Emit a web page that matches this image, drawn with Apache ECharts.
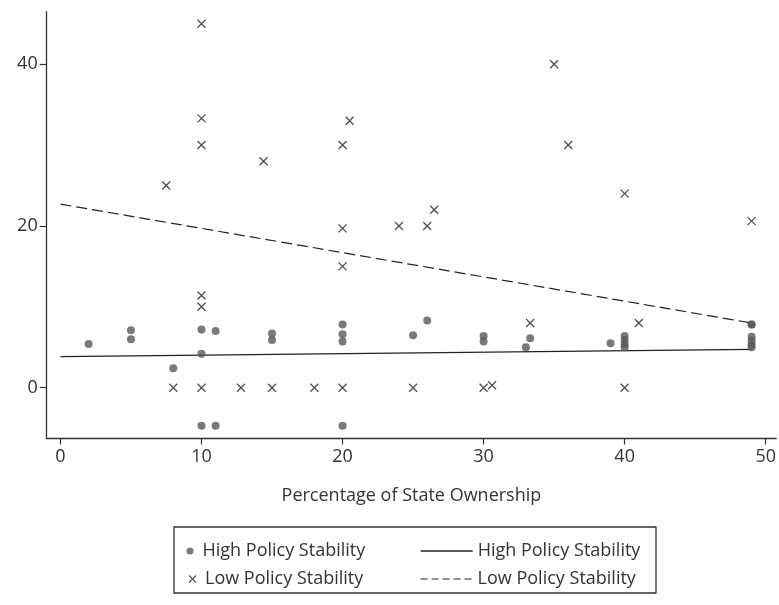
<!DOCTYPE html>
<html><head><meta charset="utf-8">
<script src="https://cdn.jsdelivr.net/npm/echarts@6/dist/echarts.min.js"></script>
<style>html,body{margin:0;padding:0;background:#fff}#c{width:779px;height:605px}</style>
</head><body><div id="c"></div>
<script>
// ---- data ----
const highX = [2, 5, 5, 8, 10, 10, 10, 11, 11, 15, 15, 20, 20, 20, 20, 25, 26, 30, 30, 33, 33.3, 39, 40, 40, 40, 40, 49, 49, 49, 49, 49, 49];
const highY = [5.4, 7.1, 6.0, 2.4, 7.2, 4.2, -4.7, 7.0, -4.7, 6.7, 5.9, 7.8, 6.6, 5.7, -4.7, 6.5, 8.3, 6.4, 5.7, 5.0, 6.1, 5.5, 6.4, 5.9, 5.4, 5.0, 7.8, 7.8, 6.3, 5.8, 5.3, 5.0];
const lowX = [10, 10, 10, 14.4, 7.5, 35, 20.5, 20, 36, 26.5, 40, 49, 10, 10, 8, 10, 12.8, 15, 20, 24, 26, 20, 33.3, 18, 20, 25, 30, 30.6, 41, 40];
const lowY = [45, 33.3, 30, 28, 25, 40, 33, 30, 30, 22, 24, 20.6, 11.4, 10, 0, 0, 0, 0, 19.7, 20, 20, 15, 8, 0, 0, 0, 0, 0.3, 8, 0];
const fitX = [0, 49];
const highFitY = [3.85, 4.75];
const lowFitY = [22.7, 8.0];
const xTicks = [0, 10, 20, 30, 40, 50];
const yTicks = [0, 20, 40];
const xTitle = 'Percentage of State Ownership';
const labelHigh = 'High Policy Stability';
const labelLow = 'Low Policy Stability';

const FONT = 'Open Sans';
const FS = 18;
const TXT = '#333';
const CROSS = 'path://M0,0L10,10M10,0L0,10';
const zip = (xs, ys) => xs.map((x, i) => [x, ys[i]]);

const chart = echarts.init(document.getElementById('c'), null, {renderer: 'canvas'});
const legendBase = {
  padding: 0, itemGap: 0, selectedMode: false,
  textStyle: {fontFamily: FONT, fontSize: FS, color: TXT, lineHeight: 20}
};
chart.setOption({
  animation: false,
  backgroundColor: '#fff',
  grid: {left: 46.7, top: 11.7, right: 0, bottom: 166.5},
  xAxis: {
    type: 'value', min: -0.974, max: 50.74,
    axisLine: {show: true, onZero: false, lineStyle: {color: '#333', width: 1.3}},
    axisTick: {show: true, customValues: xTicks, length: 6, lineStyle: {color: '#333', width: 1.2}},
    axisLabel: {customValues: xTicks, margin: 9, fontFamily: FONT, fontSize: FS, color: TXT},
    splitLine: {show: false},
    name: xTitle, nameLocation: 'middle', nameGap: 48,
    nameTextStyle: {fontFamily: FONT, fontSize: FS, color: TXT}
  },
  yAxis: {
    type: 'value', min: -6.28, max: 46.49,
    axisLine: {show: true, onZero: false, lineStyle: {color: '#333', width: 1.3}},
    axisTick: {show: true, customValues: yTicks, length: 7, lineStyle: {color: '#333', width: 1.2}},
    axisLabel: {customValues: yTicks, margin: 9, fontFamily: FONT, fontSize: FS, color: TXT},
    splitLine: {show: false}
  },
  series: [
    {name: 'hd', type: 'scatter', data: zip(highX, highY), symbol: 'circle', symbolSize: 8,
     itemStyle: {color: '#595959'}, z: 3},
    {name: 'hl', type: 'line', data: zip(fitX, highFitY), symbol: 'none', color: '#222',
     itemStyle: {color: '#222'}, lineStyle: {color: '#222', width: 1.3}, z: 2},
    {name: 'ld', type: 'scatter', data: zip(lowX, lowY), symbol: CROSS, symbolSize: 8,
     itemStyle: {color: 'none', borderColor: '#222', borderWidth: 1.3}, z: 3},
    {name: 'll', type: 'line', data: zip(fitX, lowFitY), symbol: 'none', color: '#222',
     itemStyle: {color: '#222'}, lineStyle: {color: '#222', width: 1.2, type: [11, 5]}, z: 2}
  ],
  legend: [
    Object.assign({}, legendBase, {data: ['hd'], left: 186.5, top: 541, itemWidth: 7, itemHeight: 7,
      textStyle: Object.assign({}, legendBase.textStyle, {padding: [0, 0, 0, 4]}),
      formatter: () => labelHigh}),
    Object.assign({}, legendBase, {data: ['ld'], left: 186.5, top: 569, itemWidth: 7, itemHeight: 7,
      itemStyle: {color: 'none', borderColor: '#222', borderWidth: 1.1},
      textStyle: Object.assign({}, legendBase.textStyle, {padding: [0, 0, 0, 4]}),
      formatter: () => labelLow}),
    Object.assign({}, legendBase, {data: ['hl'], left: 420, top: 541, itemWidth: 52, itemHeight: 14,
      itemStyle: {opacity: 0}, lineStyle: {color: '#222', width: 1.3},
      formatter: () => labelHigh}),
    Object.assign({}, legendBase, {data: ['ll'], left: 420, top: 569, itemWidth: 52, itemHeight: 14,
      itemStyle: {opacity: 0}, lineStyle: {color: '#222', width: 1.2, type: [7, 4]},
      formatter: () => labelLow})
  ],
  graphic: [{type: 'rect', shape: {x: 174, y: 527, width: 482, height: 66},
    style: {fill: 'none', stroke: '#333', lineWidth: 1.3}, silent: true}]
});
</script>
</body></html>
